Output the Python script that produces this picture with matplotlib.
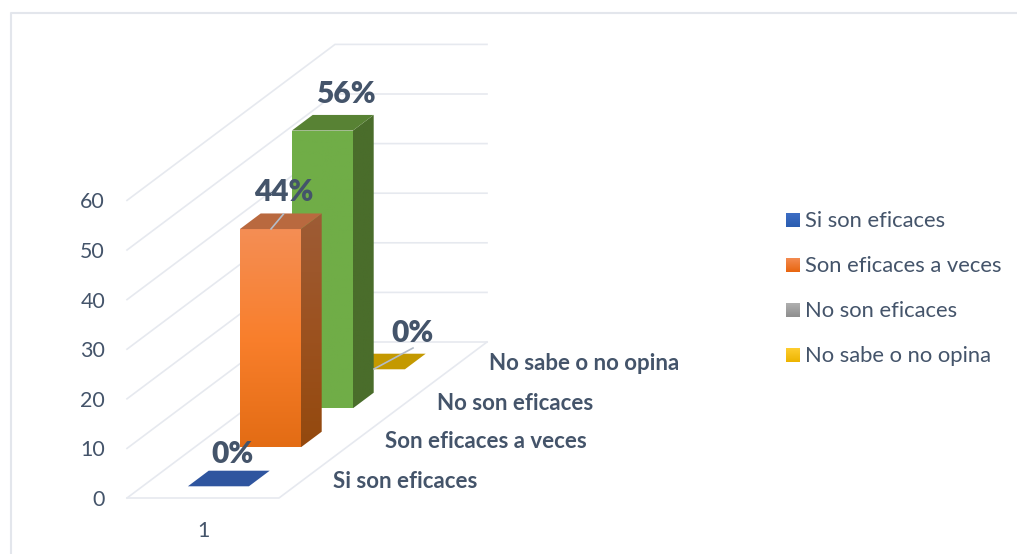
import numpy as np
import matplotlib
matplotlib.use("Agg")
import matplotlib.pyplot as plt
from matplotlib.patches import Polygon
from matplotlib.colors import LinearSegmentedColormap

# ---- data ----
categories = ["Si son eficaces", "Son eficaces a veces", "No son eficaces", "No sabe o no opina"]
values = [0, 44, 56, 0]
value_labels = ["0%", "44%", "56%", "0%"]
legend_labels = ["Si son eficaces", "Son eficaces a veces", "No son eficaces", "No sabe o no opina"]
y_ticks = [0, 10, 20, 30, 40, 50, 60]
x_label = "1"

# ---- style ----
TXT = "#44546A"
GRID = "#E6E9EF"
FONT = "Lato"
front_grad = [["#2F559F", "#2F559F"], ["#F48E55", "#F97F2C", "#E36C14"],
              ["#70AD47", "#70AD47"], ["#C49900", "#C49900"]]
side_grad = [["#2F559F", "#2F559F"], ["#9E5C36", "#9C5220", "#94490E"],
             ["#4A6D2B", "#4A6D2B"], ["#C49900", "#C49900"]]
top_col = ["#2F559F", "#B9693F", "#588234", "#C49900"]
legend_grad = [["#3F6FC6", "#2A5DB0"], ["#F48E55", "#E8650F"],
               ["#B2B2B2", "#8E8E8E"], ["#FFCF33", "#EDB400"]]

fig = plt.figure(figsize=(10.17, 5.54), dpi=100)
ax = fig.add_axes([0, 0, 1, 1])
ax.axis("off")

# ---- oblique projection ----
X0, Y0 = 127.0, 498.0          # front-left floor corner
WIDTH = 152.0                  # width of floor
UNIT_Y = 4.96                  # px per value unit
DEPTH_X, DEPTH_Y = 52.0, 39.0  # px per series in depth
BAR_L, BAR_W = 45.3 / 152, 61.0 / 152
BAR_D0, BAR_D = 0.3, 0.4


def proj(u, d, v):
    """u: 0-1 across, d: depth in series units, v: value"""
    return (X0 + u * WIDTH + d * DEPTH_X, Y0 - d * DEPTH_Y - v * UNIT_Y)


def poly(pts, color, z):
    ax.add_patch(Polygon(pts, closed=True, fc=color, ec="none", zorder=z))


def grad(pts, colors, z):
    xs, ys = zip(*pts)
    cmap = LinearSegmentedColormap.from_list("g", colors)
    im = ax.imshow(np.linspace(0, 1, 256)[:, None], cmap=cmap, aspect="auto",
                   extent=(min(xs), max(xs), max(ys), min(ys)), zorder=z)
    im.set_clip_path(Polygon(pts, closed=True, transform=ax.transData))


n = len(categories)
# walls / floor
for t in y_ticks:
    a, b, c = proj(0, 0, t), proj(0, n, t), proj(1, n, t)
    ax.plot([a[0], b[0], c[0]], [a[1], b[1], c[1]], color=GRID, lw=1.2, zorder=1,
            solid_joinstyle="miter")
ax.plot(*zip(proj(0, 0, 0), proj(1, 0, 0), proj(1, n, 0)), color=GRID, lw=1.2, zorder=1)

# bars, back to front
for i in range(n - 1, -1, -1):
    z = 10 + (n - i) * 2
    v = values[i]
    d0 = i + BAR_D0
    d1 = d0 + BAR_D
    u0, u1 = BAR_L, BAR_L + BAR_W
    if v > 0:
        grad([proj(u1, d0, 0), proj(u1, d1, 0), proj(u1, d1, v), proj(u1, d0, v)], side_grad[i], z)
        grad([proj(u0, d0, 0), proj(u1, d0, 0), proj(u1, d0, v), proj(u0, d0, v)], front_grad[i], z + 1)
    poly([proj(u0, d0, v), proj(u1, d0, v), proj(u1, d1, v), proj(u0, d1, v)], top_col[i], z + 1)

# leader lines
ax.plot([271, 283.5], [229, 214], color="#B4BCC8", lw=1.2, zorder=30)
ax.plot([374, 413], [369, 348], color="#B4BCC8", lw=1.2, zorder=30)

# value labels
label_pos = [(233, 454), (283.5, 192), (345.5, 94), (412.5, 333)]
for (x, y), s in zip(label_pos, value_labels):
    ax.text(x, y, s, fontsize=21.5, fontweight="heavy", color=TXT, family=FONT,
            ha="center", va="center", zorder=40)

# y tick labels
for t in y_ticks:
    ax.text(105, proj(0, 0, t)[1] + 2, str(t), fontsize=15.4, color=TXT, family=FONT,
            ha="right", va="center")
ax.text(203, 531, x_label, fontsize=15.4, color=TXT, family=FONT, ha="center", va="center")

# category labels
for i, s in enumerate(categories):
    x = 333 + i * DEPTH_X
    y = 481 - i * DEPTH_Y
    ax.text(x, y, s, fontsize=16, fontweight="bold", color=TXT, family=FONT,
            ha="left", va="center", zorder=40)

# legend
for i, s in enumerate(legend_labels):
    y = 220 + i * 45
    grad([(786, y - 7.5), (800, y - 7.5), (800, y + 7.5), (786, y + 7.5)], legend_grad[i], 5)
    ax.text(805, y + 1, s, fontsize=15.8, color=TXT, family=FONT, ha="left", va="center")

# frame
ax.plot([10.5, 10.5, 1017], [554, 12.5, 12.5], color="#E3E6EC", lw=1.5, zorder=0)

ax.set_xlim(0, 1017)
ax.set_ylim(554, 0)
fig.savefig("out.png", dpi=100, facecolor="white")
